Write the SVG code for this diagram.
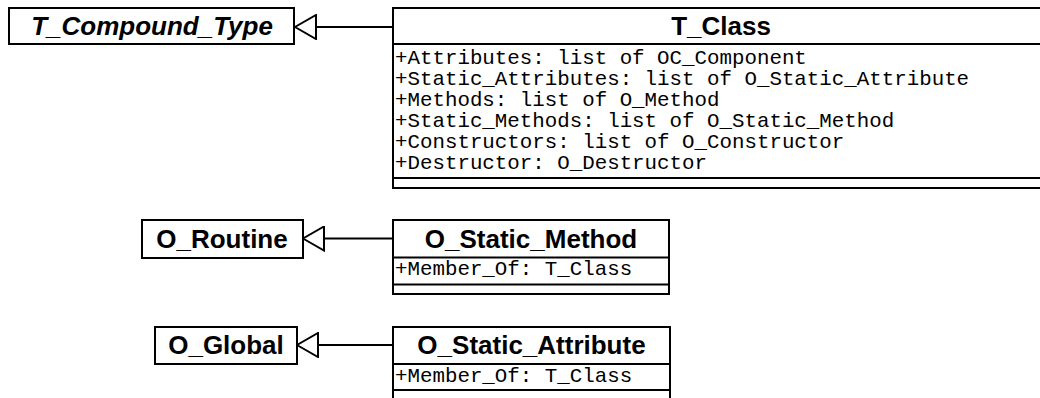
<svg xmlns="http://www.w3.org/2000/svg" width="1040" height="398" viewBox="0 0 1040 398">
<style>
.box{fill:#fff;stroke:#000;stroke-width:2}
.div{stroke:#000;stroke-width:2}
.name{font-family:"Liberation Sans",Arial,sans-serif;font-weight:bold;font-size:26px;fill:#000;text-anchor:middle}
.abs{font-style:italic}
.attr{font-family:"Liberation Mono","Courier New",monospace;font-size:20.8px;fill:#000}
.gen{fill:none;stroke:#000;stroke-width:2;marker-end:url(#tri)}
</style>
<defs>
<marker id="tri" viewBox="-1 -1 23 26" refX="21" refY="12" markerWidth="23" markerHeight="26" markerUnits="userSpaceOnUse" orient="auto">
<path d="M21,12 L0,0 L0,24 Z" fill="#fff" stroke="#000" stroke-width="2"/>
</marker>
</defs>
<rect width="1040" height="398" fill="#fff"/>
<g id="T_Compound_Type">
<rect class="box" x="9" y="8" width="285" height="36"/>
<text class="name abs" x="152" y="35">T_Compound_Type</text>
</g>
<g id="T_Class">
<rect class="box" x="393" y="8" width="656" height="180"/>
<line class="div" x1="393" y1="44" x2="1049" y2="44"/>
<line class="div" x1="393" y1="178" x2="1049" y2="178"/>
<text class="name" x="721" y="35">T_Class</text>
<text class="attr" x="395" y="64">+Attributes: list of OC_Component</text>
<text class="attr" x="395" y="85">+Static_Attributes: list of O_Static_Attribute</text>
<text class="attr" x="395" y="106">+Methods: list of O_Method</text>
<text class="attr" x="395" y="127">+Static_Methods: list of O_Static_Method</text>
<text class="attr" x="395" y="148">+Constructors: list of O_Constructor</text>
<text class="attr" x="395" y="169">+Destructor: O_Destructor</text>
</g>
<g id="O_Routine">
<rect class="box" x="142" y="220" width="161" height="38"/>
<text class="name" x="222" y="248">O_Routine</text>
</g>
<g id="O_Static_Method">
<rect class="box" x="393" y="220" width="276" height="74"/>
<line class="div" x1="393" y1="257.5" x2="669" y2="257.5"/>
<line class="div" x1="393" y1="284.5" x2="669" y2="284.5"/>
<text class="name" x="531" y="248">O_Static_Method</text>
<text class="attr" x="395" y="275">+Member_Of: T_Class</text>
</g>
<g id="O_Global">
<rect class="box" x="155" y="327" width="142" height="37"/>
<text class="name" x="226" y="354">O_Global</text>
</g>
<g id="O_Static_Attribute">
<rect class="box" x="393" y="327" width="277" height="90"/>
<line class="div" x1="393" y1="364" x2="670" y2="364"/>
<line class="div" x1="393" y1="390" x2="670" y2="390"/>
<text class="name" x="531.5" y="354">O_Static_Attribute</text>
<text class="attr" x="395" y="382">+Member_Of: T_Class</text>
</g>
<g id="connectors">
<path class="gen" d="M393,27 L295,27"/>
<path class="gen" d="M393,238.5 L303,238.5"/>
<path class="gen" d="M393,345 L297,345"/>
</g>
</svg>
